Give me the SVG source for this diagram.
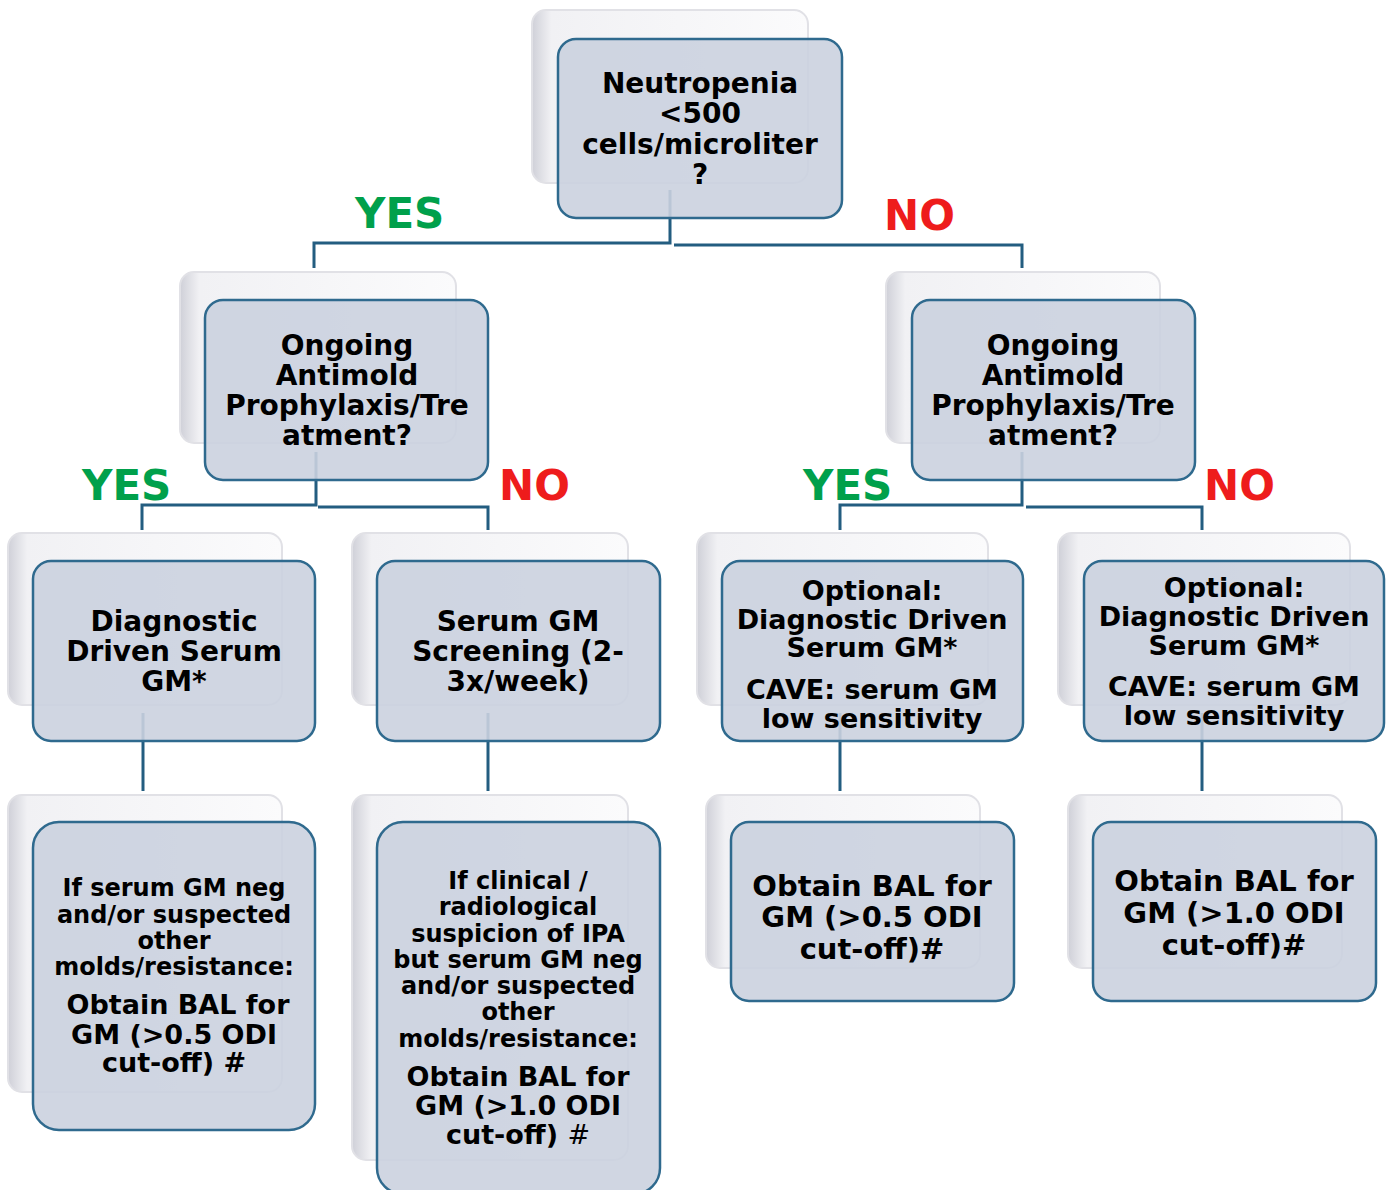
<svg xmlns="http://www.w3.org/2000/svg" width="1393" height="1190" viewBox="0 0 1393 1190">
<defs>
<linearGradient id="sh" x1="0" y1="0" x2="1" y2="0">
<stop offset="0" stop-color="#cfd0d8"/>
<stop offset="0.07" stop-color="#f1f1f4"/>
<stop offset="1" stop-color="#fbfbfc"/>
</linearGradient>
<style>
.sh{fill:url(#sh);stroke:#e1e1e6;stroke-width:2}
.bx{fill:#cbd1df;fill-opacity:0.9;stroke:#2f6a8e;stroke-width:2.5}
.cn{fill:none;stroke:#235d80;stroke-width:3}
.t{font-family:"DejaVu Sans",Verdana,sans-serif;font-weight:bold;fill:#000;text-anchor:middle}
.f28{font-size:28px}.f27{font-size:27px}.f26{font-size:26px}.f24{font-size:24px}.f30{font-size:29px}
.yes{font-family:"DejaVu Sans",Verdana,sans-serif;font-weight:bold;font-size:42px;fill:#00a04b}
.no{font-family:"DejaVu Sans",Verdana,sans-serif;font-weight:bold;font-size:42px;fill:#ee1c1c}
</style>
</defs>
<rect width="1393" height="1190" fill="#fff"/>
<g id="connectors">
<path class="cn" d="M670,190 V243 H314 V268"/>
<path class="cn" d="M674,245 H1022 V268"/>
<path class="cn" d="M316,452 V505 H142 V530"/>
<path class="cn" d="M318,507 H488 V530"/>
<path class="cn" d="M1022,452 V505 H840 V530"/>
<path class="cn" d="M1026,507 H1202 V530"/>
<path class="cn" d="M143,713 V791"/>
<path class="cn" d="M488,713 V791"/>
<path class="cn" d="M840,713 V791"/>
<path class="cn" d="M1202,713 V791"/>
</g>
<g id="labels">
<text class="yes" x="355" y="228">YES</text>
<text class="no" x="884" y="230">NO</text>
<text class="yes" x="82" y="500">YES</text>
<text class="no" x="499" y="500">NO</text>
<text class="yes" x="803" y="500">YES</text>
<text class="no" x="1204" y="500">NO</text>
</g>
<g id="n-root">
<rect class="sh" x="532" y="10" width="276" height="173" rx="14"/>
<rect class="bx" x="558" y="39" width="284" height="179" rx="18"/>
<text class="t f28"><tspan x="700" y="93">Neutropenia</tspan><tspan x="700" y="123">&lt;500</tspan><tspan x="700" y="154">cells/microliter</tspan><tspan x="700" y="184">?</tspan></text>
</g>
<g id="n-left">
<rect class="sh" x="180" y="272" width="276" height="171" rx="14"/>
<rect class="bx" x="205" y="300" width="283" height="180" rx="18"/>
<text class="t f28"><tspan x="347" y="355">Ongoing</tspan><tspan x="347" y="385">Antimold</tspan><tspan x="347" y="415">Prophylaxis/Tre</tspan><tspan x="347" y="445">atment?</tspan></text>
</g>
<g id="n-right">
<rect class="sh" x="886" y="272" width="274" height="171" rx="14"/>
<rect class="bx" x="912" y="300" width="283" height="180" rx="18"/>
<text class="t f28"><tspan x="1053" y="355">Ongoing</tspan><tspan x="1053" y="385">Antimold</tspan><tspan x="1053" y="415">Prophylaxis/Tre</tspan><tspan x="1053" y="445">atment?</tspan></text>
</g>
<g id="n-a3">
<rect class="sh" x="8" y="533" width="274" height="172" rx="14"/>
<rect class="bx" x="33" y="561" width="282" height="180" rx="18"/>
<text class="t f28"><tspan x="174" y="631">Diagnostic</tspan><tspan x="174" y="661">Driven Serum</tspan><tspan x="174" y="691">GM*</tspan></text>
</g>
<g id="n-b3">
<rect class="sh" x="352" y="533" width="276" height="172" rx="14"/>
<rect class="bx" x="377" y="561" width="283" height="180" rx="18"/>
<text class="t f28"><tspan x="518" y="631">Serum GM</tspan><tspan x="518" y="661">Screening (2-</tspan><tspan x="518" y="691">3x/week)</tspan></text>
</g>
<g id="n-c3">
<rect class="sh" x="697" y="533" width="291" height="172" rx="14"/>
<rect class="bx" x="722" y="561" width="301" height="180" rx="18"/>
<text class="t f27"><tspan x="872" y="600">Optional:</tspan><tspan x="872" y="629">Diagnostic Driven</tspan><tspan x="872" y="657">Serum GM*</tspan><tspan x="872" y="699">CAVE: serum GM</tspan><tspan x="872" y="728">low sensitivity</tspan></text>
</g>
<g id="n-d3">
<rect class="sh" x="1058" y="533" width="292" height="172" rx="14"/>
<rect class="bx" x="1084" y="561" width="300" height="180" rx="18"/>
<text class="t f27"><tspan x="1234" y="597">Optional:</tspan><tspan x="1234" y="626">Diagnostic Driven</tspan><tspan x="1234" y="655">Serum GM*</tspan><tspan x="1234" y="696">CAVE: serum GM</tspan><tspan x="1234" y="725">low sensitivity</tspan></text>
</g>
<g id="n-a4">
<rect class="sh" x="8" y="795" width="274" height="297" rx="14"/>
<rect class="bx" x="33" y="822" width="282" height="308" rx="26"/>
<text class="t f24"><tspan x="174" y="896">If serum GM neg</tspan><tspan x="174" y="923">and/or suspected</tspan><tspan x="174" y="949">other</tspan><tspan x="174" y="975">molds/resistance:</tspan></text>
<text class="t f27"><tspan x="178" y="1014">Obtain BAL for</tspan><tspan x="174" y="1044">GM (&gt;0.5 ODI</tspan><tspan x="174" y="1072">cut-off) #</tspan></text>
</g>
<g id="n-b4">
<rect class="sh" x="352" y="795" width="276" height="365" rx="14"/>
<rect class="bx" x="377" y="822" width="283" height="372" rx="26"/>
<text class="t f24"><tspan x="518" y="889">If clinical /</tspan><tspan x="518" y="915">radiological</tspan><tspan x="518" y="942">suspicion of IPA</tspan><tspan x="518" y="968">but serum GM neg</tspan><tspan x="518" y="994">and/or suspected</tspan><tspan x="518" y="1020">other</tspan><tspan x="518" y="1047">molds/resistance:</tspan></text>
<text class="t f27"><tspan x="518" y="1086">Obtain BAL for</tspan><tspan x="518" y="1115">GM (&gt;1.0 ODI</tspan><tspan x="518" y="1144">cut-off) <tspan font-weight="normal">#</tspan></tspan></text>
</g>
<g id="n-c4">
<rect class="sh" x="706" y="795" width="274" height="173" rx="14"/>
<rect class="bx" x="731" y="822" width="283" height="179" rx="18"/>
<text class="t f30"><tspan x="872" y="896">Obtain BAL for</tspan><tspan x="872" y="927">GM (&gt;0.5 ODI</tspan><tspan x="872" y="959">cut-off)#</tspan></text>
</g>
<g id="n-d4">
<rect class="sh" x="1068" y="795" width="274" height="173" rx="14"/>
<rect class="bx" x="1093" y="822" width="283" height="179" rx="18"/>
<text class="t f30"><tspan x="1234" y="891">Obtain BAL for</tspan><tspan x="1234" y="923">GM (&gt;1.0 ODI</tspan><tspan x="1234" y="955">cut-off)#</tspan></text>
</g>
</svg>
